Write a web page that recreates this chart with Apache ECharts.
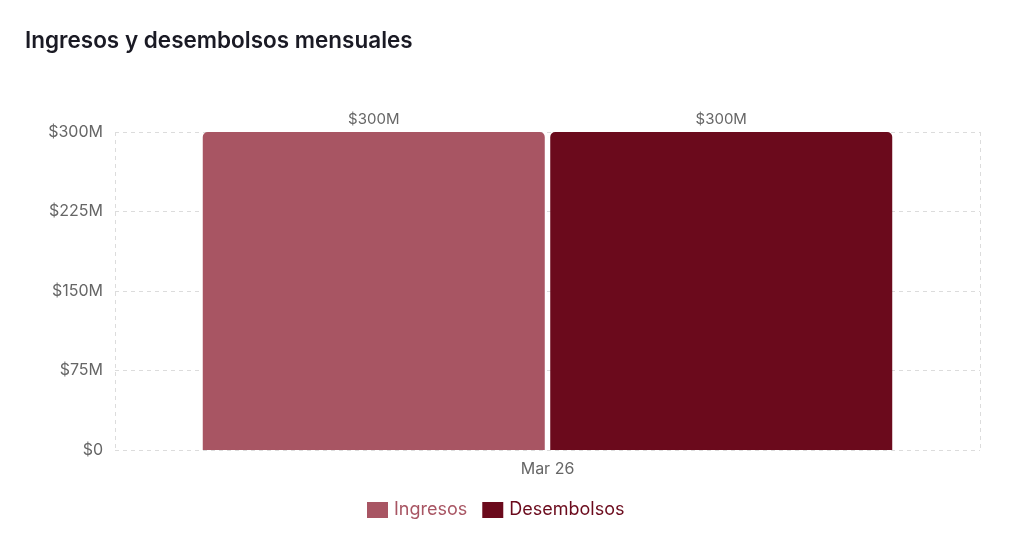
<!DOCTYPE html>
<html>
<head>
<meta charset="utf-8">
<script src="https://cdn.jsdelivr.net/npm/echarts@6/dist/echarts.min.js"></script>
<style>
  html, body { margin: 0; padding: 0; background: #fff; }
  #chart { width: 1026px; height: 546px; }
</style>
</head>
<body>
<div id="chart"></div>
<script>
// datos del gráfico
const months = ['Mar 26'];
const ingresos = [300000000];
const desembolsos = [300000000];
const yTicks = [0, 75000000, 150000000, 225000000, 300000000];

const fmtM = v => v === 0 ? '$0' : '$' + Math.round(v / 1e6) + 'M';
const gridLine = { type: [4, 4], color: '#dcdcdc', width: 1 };

const chart = echarts.init(document.getElementById('chart'));
chart.setOption({
    textStyle: { fontFamily: 'Inter' },
    title: {
        text: 'Ingresos y desembolsos mensuales',
        left: 20,
        top: 25,
        textStyle: { fontFamily: 'Inter', fontSize: 22.5, fontWeight: 600, color: '#1a1a24' }
    },
    grid: { left: 115, right: 46, top: 132, bottom: 96 },
    legend: {
        bottom: 22,
        left: 362,
        itemWidth: 21,
        itemHeight: 16,
        itemGap: 15,
        icon: 'rect',
        textStyle: { fontSize: 18, fontFamily: 'Inter', padding: [0, 0, 0, 1] },
        data: [
            { name: 'Ingresos', textStyle: { color: '#a85563' } },
            { name: 'Desembolsos', textStyle: { color: '#6b0a1c' } }
        ]
    },
    xAxis: {
        type: 'category',
        data: months,
        axisLine: { show: false },
        axisTick: { show: false },
        axisLabel: { color: '#666', fontSize: 16, margin: 11 },
        splitLine: { show: true, lineStyle: gridLine }
    },
    yAxis: {
        type: 'value',
        min: yTicks[0],
        max: yTicks[yTicks.length - 1],
        interval: yTicks[1] - yTicks[0],
        axisLabel: { color: '#666', fontSize: 16, margin: 12, formatter: fmtM },
        splitLine: { lineStyle: gridLine }
    },
    series: [
        {
            name: 'Ingresos',
            type: 'bar',
            data: ingresos,
            barWidth: 342,
            barGap: '1.6%',
            itemStyle: { color: '#a85563', borderRadius: [5, 5, 0, 0] },
            label: { show: true, position: 'top', color: '#666', fontSize: 15, formatter: p => fmtM(p.value) }
        },
        {
            name: 'Desembolsos',
            type: 'bar',
            data: desembolsos,
            barWidth: 342,
            itemStyle: { color: '#6b0a1c', borderRadius: [5, 5, 0, 0] },
            label: { show: true, position: 'top', color: '#666', fontSize: 15, formatter: p => fmtM(p.value) }
        }
    ]
});
</script>
</body>
</html>
